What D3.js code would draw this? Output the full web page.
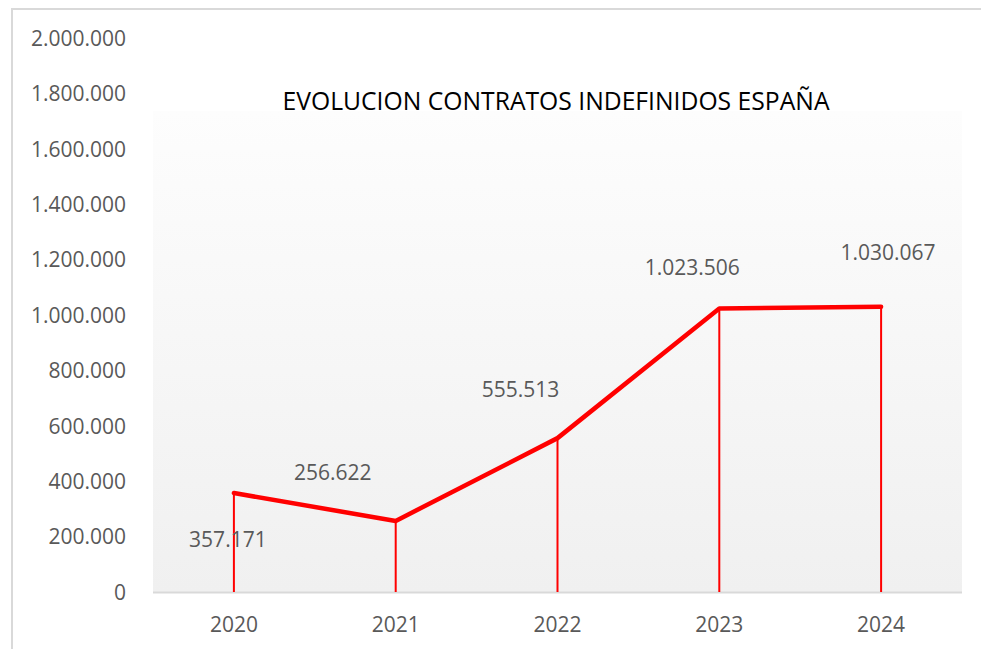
<!DOCTYPE html>
<html>
<head>
<meta charset="utf-8">
<script src="https://cdn.jsdelivr.net/npm/d3@7"></script>
<style>
  body { margin: 0; background: #fff; }
  text { font-family: "Open Sans", "Liberation Sans", sans-serif; }
</style>
</head>
<body>
<div id="chart"></div>
<script>
// Data
var years = ["2020", "2021", "2022", "2023", "2024"];
var contratos = [357171, 256622, 555513, 1023506, 1030067];
var yTicks = [0, 200000, 400000, 600000, 800000, 1000000, 1200000, 1400000, 1600000, 1800000, 2000000];

var W = 981, H = 649;
var margin = {top: 38, right: 19, bottom: 57, left: 153},
    width = W - margin.left - margin.right,
    height = H - margin.top - margin.bottom;

// Spanish number format: dots as thousands separators
var fmt = d3.formatLocale({decimal: ",", thousands: ".", grouping: [3], currency: ["", "€"]}).format(",d");

var svg = d3.select("#chart").append("svg")
    .attr("width", W)
    .attr("height", H);

// outer chart frame (runs off the page right and bottom)
svg.append("rect")
    .attr("x", 12).attr("y", 9)
    .attr("width", W + 20).attr("height", H + 20)
    .attr("fill", "#fff")
    .attr("stroke", "#d9d9d9")
    .attr("stroke-width", 2);

var defs = svg.append("defs");
var grad = defs.append("linearGradient")
    .attr("id", "plotbg").attr("x1", 0).attr("y1", 0).attr("x2", 0).attr("y2", 1);
grad.append("stop").attr("offset", "0%").attr("stop-color", "#fdfdfd");
grad.append("stop").attr("offset", "100%").attr("stop-color", "#f0f0f0");

var g = svg.append("g")
    .attr("transform", "translate(" + margin.left + "," + margin.top + ")");

var x = d3.scaleBand().domain(years).range([0, width]).padding(0);
var y = d3.scaleLinear().domain([0, 2000000]).range([height, 0]);

// plot area background (below the title box)
var bgTop = 73;
g.append("rect")
    .attr("x", 0).attr("y", bgTop)
    .attr("width", width).attr("height", height - bgTop)
    .attr("fill", "url(#plotbg)");

// baseline
g.append("line")
    .attr("x1", 0).attr("x2", width)
    .attr("y1", y(0) + 0.5).attr("y2", y(0) + 0.5)
    .attr("stroke", "#d9d9d9")
    .attr("stroke-width", 2);

// y axis labels (no line, no ticks)
var yAxis = g.append("g")
    .attr("transform", "translate(-24,0)")
    .call(d3.axisLeft(y).tickValues(yTicks).tickFormat(fmt).tickSize(0));
yAxis.select(".domain").remove();
yAxis.selectAll("text")
    .attr("fill", "#595959")
    .style("font-size", "21px")
    .attr("dy", "0.35em");

// x axis labels
var xAxis = g.append("g")
    .attr("transform", "translate(0," + height + ")")
    .call(d3.axisBottom(x).tickSize(0));
xAxis.select(".domain").remove();
xAxis.selectAll("text")
    .attr("fill", "#595959")
    .style("font-size", "21px")
    .attr("y", 40)
    .attr("dy", 0);

var cx = function(d, i) { return x(years[i]) + x.bandwidth() / 2; };

// drop lines
g.selectAll(".drop")
    .data(contratos)
    .enter().append("line")
    .attr("class", "drop")
    .attr("x1", cx).attr("x2", cx)
    .attr("y1", function(d) { return y(d); })
    .attr("y2", y(0))
    .attr("stroke", "#ff0000")
    .attr("stroke-width", 2);

// the line
var line = d3.line()
    .x(function(d, i) { return cx(d, i); })
    .y(function(d) { return y(d); });

g.append("path")
    .datum(contratos)
    .attr("d", line)
    .attr("fill", "none")
    .attr("stroke", "#ff0000")
    .attr("stroke-width", 4.5)
    .attr("stroke-linejoin", "round")
    .attr("stroke-linecap", "round");

// data labels, placed by hand as in the original
var labelShift = [[-6, 54], [-63, -41], [-37, -41], [-27, -33], [7, -47]];
g.selectAll(".lbl")
    .data(contratos)
    .enter().append("text")
    .attr("class", "lbl")
    .attr("x", function(d, i) { return cx(d, i) + labelShift[i][0]; })
    .attr("y", function(d, i) { return y(d) + labelShift[i][1]; })
    .attr("text-anchor", "middle")
    .attr("fill", "#595959")
    .style("font-size", "21px")
    .text(function(d) { return fmt(d); });

// title
svg.append("text")
    .attr("x", 556)
    .attr("y", 110)
    .attr("text-anchor", "middle")
    .attr("fill", "#000")
    .attr("textLength", 547)
    .attr("lengthAdjust", "spacingAndGlyphs")
    .style("font-size", "26px")
    .text("EVOLUCION CONTRATOS INDEFINIDOS ESPAÑA");
</script>
</body>
</html>
